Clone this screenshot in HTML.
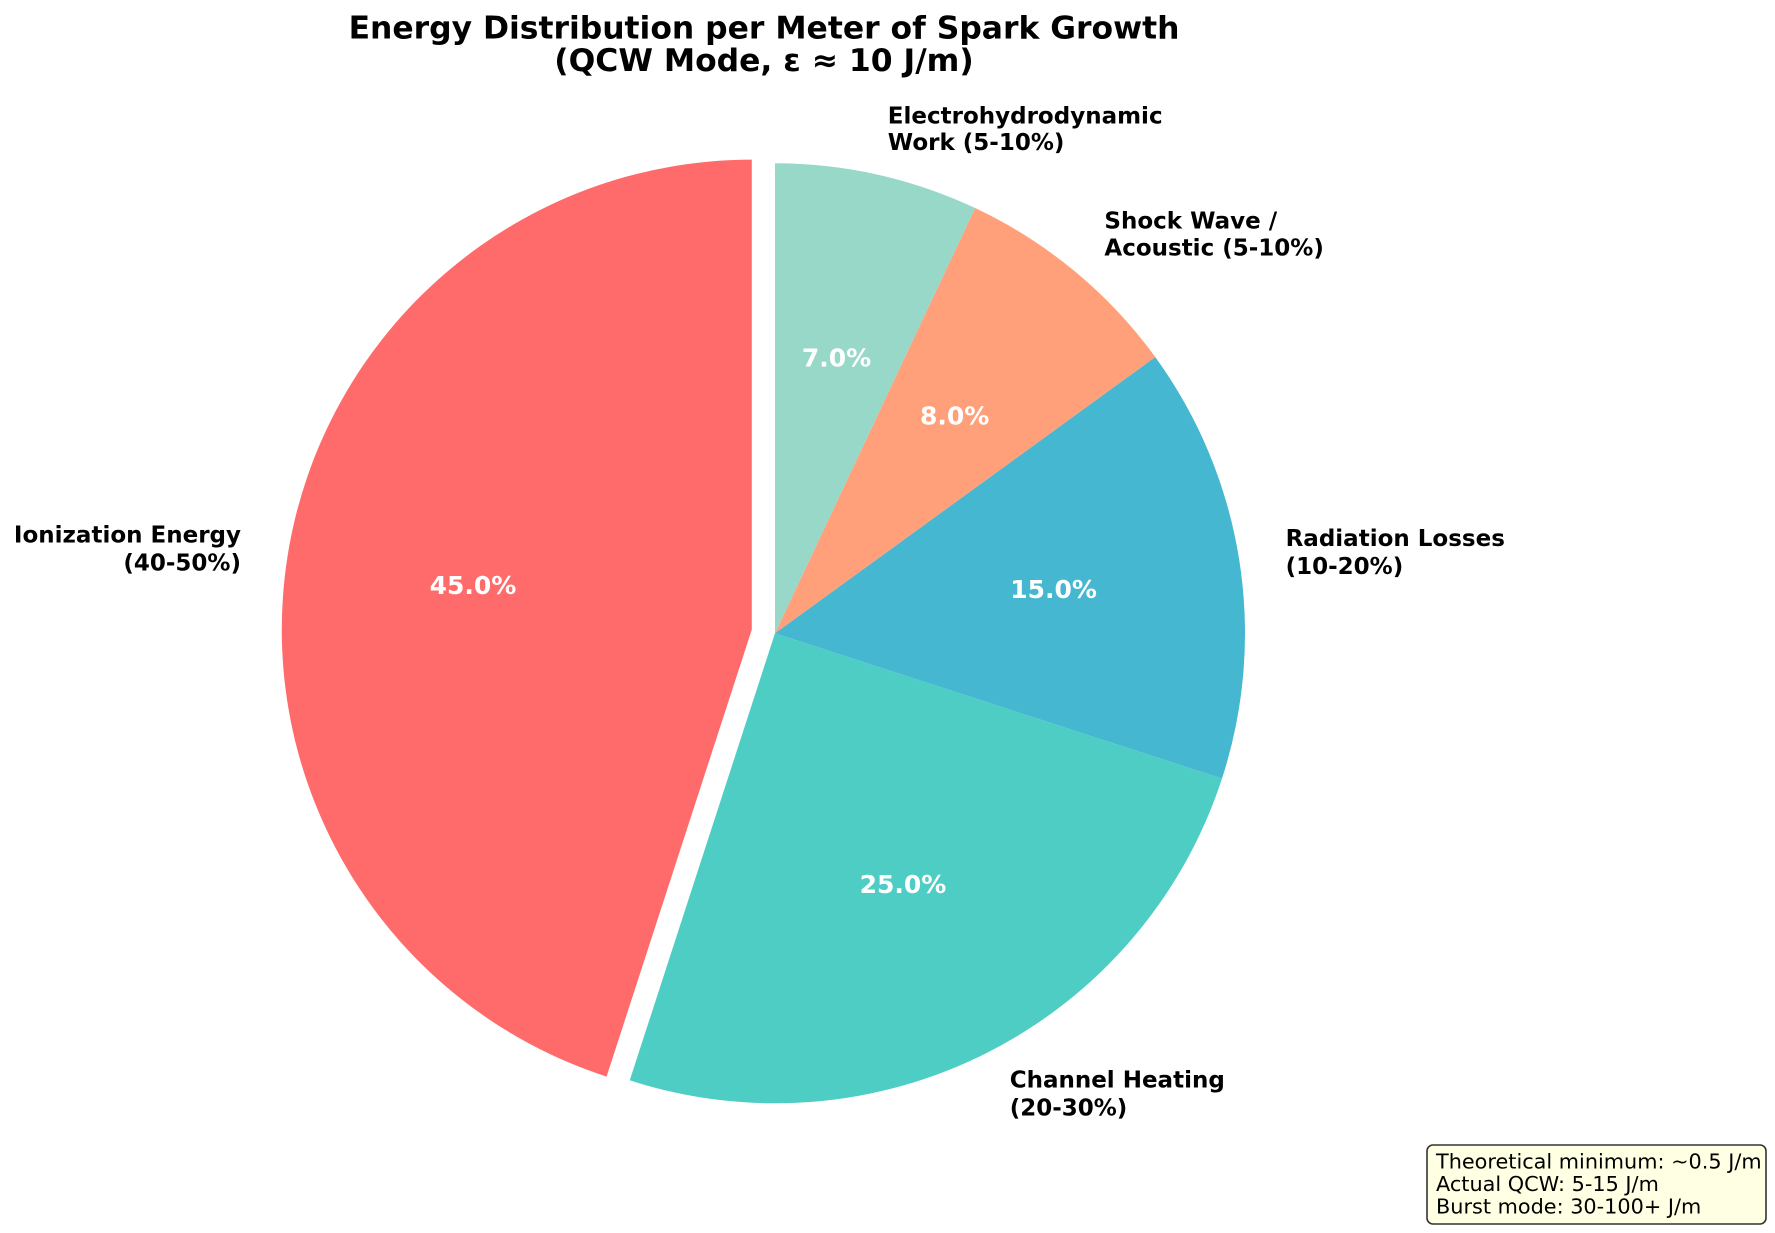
<!DOCTYPE html>
<html>
<head>
<meta charset="utf-8">
<style>
  html, body { margin:0; padding:0; background:#ffffff; }
  body { width:1775px; height:1233px; overflow:hidden; }
  svg { display:block; }
  text { font-family: "DejaVu Sans", "Liberation Sans", sans-serif; }
  .lbl { font-weight:bold; font-size:23px; fill:#000; }
  .pct { font-weight:bold; font-size:25px; fill:#ffffff; }
  .ttl { font-weight:bold; font-size:31.4px; fill:#000; }
  .box { font-size:20.8px; fill:#000; }
</style>
</head>
<body>
<svg width="1775" height="1233" viewBox="0 0 1775 1233" xmlns="http://www.w3.org/2000/svg">
  <rect x="0" y="0" width="1775" height="1233" fill="#ffffff"/>

  <!-- Title -->
  <text class="ttl" x="764" y="38.5" text-anchor="middle">Energy Distribution per Meter of Spark Growth</text>
  <text class="ttl" x="764" y="71" text-anchor="middle">(QCW Mode, ε ≈ 10 J/m)</text>

  <!-- Wedges -->
  <path d="M751.79,629.62 L751.79,159.62 A470,470 0 0 0 606.55,1076.62 Z" fill="#FF6B6B"/>
  <path d="M775,633.3 L629.76,1080.3 A470,470 0 0 0 1222.0,778.54 Z" fill="#4ECDC4"/>
  <path d="M775,633.3 L1222.0,778.54 A470,470 0 0 0 1155.24,357.04 Z" fill="#45B7D1"/>
  <path d="M775,633.3 L1155.24,357.04 A470,470 0 0 0 975.12,208.03 Z" fill="#FFA07A"/>
  <path d="M775,633.3 L975.12,208.03 A470,470 0 0 0 775,163.3 Z" fill="#98D8C8"/>

  <!-- Percent labels -->
  <text class="pct" x="473" y="594" text-anchor="middle">45.0%</text>
  <text class="pct" x="903" y="892.8" text-anchor="middle">25.0%</text>
  <text class="pct" x="1053.6" y="597.8" text-anchor="middle">15.0%</text>
  <text class="pct" x="954.7" y="424.6" text-anchor="middle">8.0%</text>
  <text class="pct" x="836.5" y="366.5" text-anchor="middle">7.0%</text>

  <!-- Category labels -->
  <text class="lbl" x="241" y="542.3" text-anchor="end">Ionization Energy</text>
  <text class="lbl" x="241" y="570.7" text-anchor="end">(40-50%)</text>

  <text class="lbl" x="1009.7" y="1087.7">Channel Heating</text>
  <text class="lbl" x="1009.7" y="1115.5">(20-30%)</text>

  <text class="lbl" x="1285.6" y="546">Radiation Losses</text>
  <text class="lbl" x="1285.6" y="573.8">(10-20%)</text>

  <text class="lbl" x="1104.4" y="228.3">Shock Wave /</text>
  <text class="lbl" x="1104.4" y="255.7">Acoustic (5-10%)</text>

  <text class="lbl" x="887.8" y="123.3">Electrohydrodynamic</text>
  <text class="lbl" x="887.8" y="149.8">Work (5-10%)</text>

  <!-- Info box -->
  <rect x="1427" y="1145" width="339" height="79" rx="6" ry="6" fill="#FFFFE0" fill-opacity="0.9" stroke="#333333" stroke-width="1.6"/>
  <text class="box" x="1436" y="1168.5">Theoretical minimum: ~0.5 J/m</text>
  <text class="box" x="1436" y="1191">Actual QCW: 5-15 J/m</text>
  <text class="box" x="1436" y="1213.5">Burst mode: 30-100+ J/m</text>
</svg>
</body>
</html>
